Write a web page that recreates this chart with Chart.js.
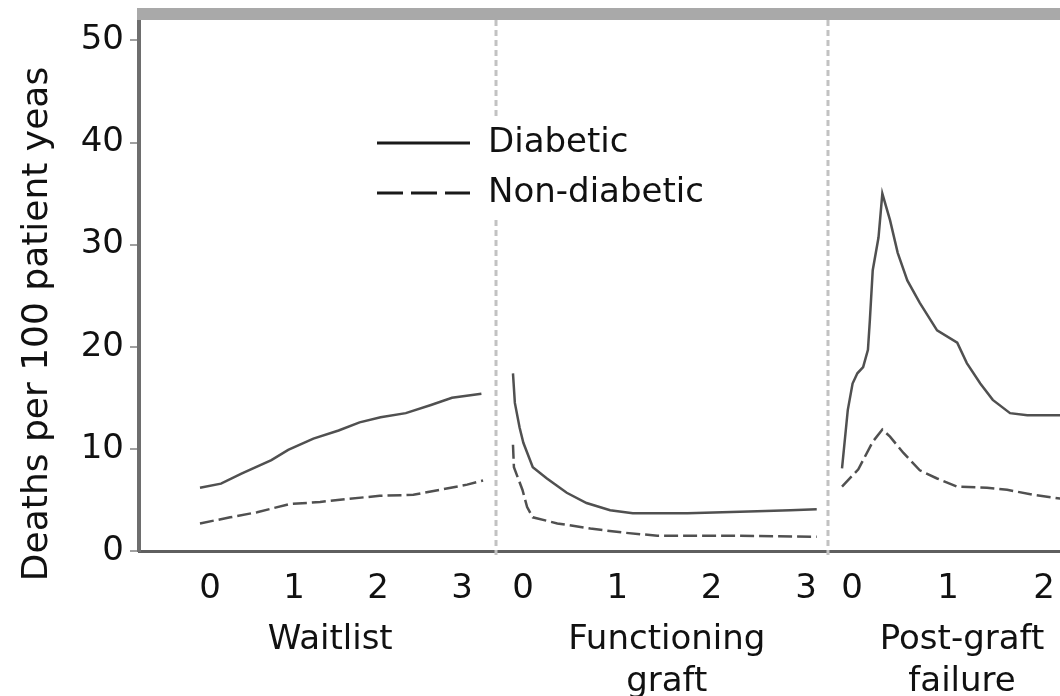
<!DOCTYPE html>
<html>
<head>
<meta charset="utf-8">
<script src="https://cdn.jsdelivr.net/npm/chart.js@4.4.1/dist/chart.umd.min.js"></script>
<style>
  html, body { margin: 0; padding: 0; background: #fff; }
  #wrap { width: 1060px; height: 696px; }
</style>
</head>
<body>
<div id="wrap"><canvas id="deaths" width="1060" height="696"></canvas></div>
<script>
// tick labels
var yTickValues = [0, 10, 20, 30, 40, 50];
var panelYearTicks = [[0, 1, 2, 3], [0, 1, 2, 3], [0, 1, 2]];
var panelNames = [["Waitlist"], ["Functioning", "graft"], ["Post-graft", "failure"]];
var seriesNames = ["Diabetic", "Non-diabetic"];

// waitlist (years on list, deaths per 100 patient years)
var waitDiabYears = [0, 0.25, 0.5, 0.85, 1.05, 1.35, 1.65, 1.9, 2.15, 2.45, 2.75, 3.0, 3.35];
var waitDiabRates = [6.2, 6.6, 7.6, 8.9, 9.9, 11.0, 11.8, 12.6, 13.1, 13.5, 14.3, 15.0, 15.4];
var waitNonYears = [0, 0.36, 0.68, 1.07, 1.43, 1.75, 2.14, 2.54, 2.86, 3.18, 3.37];
var waitNonRates = [2.7, 3.3, 3.8, 4.6, 4.8, 5.1, 5.4, 5.5, 6.0, 6.5, 6.9];

// functioning graft
var graftDiabYears = [0, 0.02, 0.07, 0.11, 0.21, 0.36, 0.57, 0.78, 1.03, 1.27, 1.85, 2.59, 2.94, 3.22];
var graftDiabRates = [17.4, 14.5, 12.1, 10.6, 8.2, 7.1, 5.7, 4.7, 4.0, 3.7, 3.7, 3.9, 4.0, 4.1];
var graftNonYears = [0, 0.01, 0.1, 0.15, 0.21, 0.47, 0.82, 1.17, 1.53, 2.23, 3.22];
var graftNonRates = [10.4, 8.2, 6.0, 4.3, 3.3, 2.7, 2.2, 1.8, 1.5, 1.5, 1.4];

// post-graft failure
var failDiabYears = [0, 0.06, 0.11, 0.16, 0.22, 0.27, 0.29, 0.32, 0.38, 0.42, 0.5, 0.58, 0.68, 0.81, 0.99, 1.2, 1.3, 1.44, 1.57, 1.75, 1.93, 2.3];
var failDiabRates = [8.1, 13.8, 16.4, 17.4, 18.0, 19.7, 22.6, 27.5, 30.7, 35.0, 32.4, 29.2, 26.5, 24.3, 21.6, 20.4, 18.4, 16.4, 14.8, 13.5, 13.3, 13.3];
var failNonYears = [0, 0.17, 0.32, 0.42, 0.5, 0.64, 0.81, 0.99, 1.2, 1.51, 1.72, 1.99, 2.3];
var failNonRates = [6.3, 8.0, 10.7, 11.9, 11.2, 9.6, 7.9, 7.1, 6.3, 6.2, 6.0, 5.5, 5.1];

// panel layout along the shared x axis
var panelOffset = [0, 3.726, 7.643];
var panelStretch = [1, 1.123, 1.143];
var separatorsAt = [3.524, 7.476];
var titleAtYear = [1.55, 1.63, 1.25];
var xMin = -0.726, xMax = 10.238;

var FONT = "'DejaVu Sans', 'Liberation Sans', sans-serif";
var INK = "#111";
var LINE = "#505050";
var plotDash = [14, 5];
var legendDash = [26, 8];

function panelX(p, year) {
    return panelOffset[p] + year * panelStretch[p];
}

function joinPanels(list) {
    var pts = [];
    list.forEach(function (item, p) {
        if (p > 0) pts.push({x: separatorsAt[p - 1], y: null});
        item[0].forEach(function (yr, i) {
            pts.push({x: panelX(p, yr), y: item[1][i]});
        });
    });
    return pts;
}

var xTickValues = [], xTickText = [];
panelYearTicks.forEach(function (yrs, p) {
    yrs.forEach(function (yr) {
        xTickValues.push(panelX(p, yr));
        xTickText.push(String(yr));
    });
});

var decor = {
    id: 'decor',
    beforeDatasetsDraw: function (chart) {
        var ctx = chart.ctx, a = chart.chartArea, xs = chart.scales.x;
        ctx.save();
        ctx.strokeStyle = '#c2c2c2';
        ctx.lineWidth = 3;
        ctx.setLineDash([6, 4]);
        separatorsAt.forEach(function (s) {
            var px = xs.getPixelForValue(s);
            ctx.beginPath();
            ctx.moveTo(px, a.top);
            ctx.lineTo(px, a.bottom + 4);
            ctx.stroke();
        });
        ctx.restore();
    },
    afterDraw: function (chart) {
        var ctx = chart.ctx, a = chart.chartArea, xs = chart.scales.x;
        ctx.save();
        // thick grey frame along the top
        ctx.fillStyle = '#a9a9a9';
        ctx.fillRect(a.left - 2, a.top - 12, a.right - a.left + 2, 12);

        // legend, drawn over the separator
        var lx = a.left + 238, ly = a.top + 123;
        ctx.fillStyle = '#fff';
        ctx.fillRect(lx - 6, ly - 25, 350, 100);
        chart.data.datasets.forEach(function (ds, i) {
            var y = ly + i * 50;
            ctx.strokeStyle = '#1a1a1a';
            ctx.lineWidth = 3;
            ctx.setLineDash(ds.borderDash && ds.borderDash.length ? legendDash : []);
            ctx.beginPath();
            ctx.moveTo(lx, y);
            ctx.lineTo(lx + 93, y);
            ctx.stroke();
            ctx.setLineDash([]);
            ctx.fillStyle = INK;
            ctx.font = '34px ' + FONT;
            ctx.textAlign = 'left';
            ctx.textBaseline = 'middle';
            ctx.fillText(ds.label, lx + 111, y);
        });

        // panel names under the year ticks
        ctx.fillStyle = INK;
        ctx.font = '34px ' + FONT;
        ctx.textAlign = 'center';
        ctx.textBaseline = 'alphabetic';
        panelNames.forEach(function (lines, p) {
            var cx = xs.getPixelForValue(panelX(p, titleAtYear[p]));
            lines.forEach(function (t, k) {
                ctx.fillText(t, cx, a.bottom + 98 + k * 42);
            });
        });

        // y axis title
        ctx.translate(38, a.top + 304);
        ctx.rotate(-Math.PI / 2);
        ctx.font = '36px ' + FONT;
        ctx.textBaseline = 'middle';
        ctx.fillText('Deaths per 100 patient yeas', 0, 0);
        ctx.restore();
    }
};

var lineData = {
    datasets: [
        {
            label: seriesNames[0],
            data: joinPanels([[waitDiabYears, waitDiabRates], [graftDiabYears, graftDiabRates], [failDiabYears, failDiabRates]]),
            borderColor: LINE,
            borderWidth: 2.5,
            borderDash: [],
            pointRadius: 0,
            tension: 0,
            fill: false
        },
        {
            label: seriesNames[1],
            data: joinPanels([[waitNonYears, waitNonRates], [graftNonYears, graftNonRates], [failNonYears, failNonRates]]),
            borderColor: LINE,
            borderWidth: 2.5,
            borderDash: plotDash,
            pointRadius: 0,
            tension: 0,
            fill: false
        }
    ]
};

var lineOptions = {
    responsive: false,
    animation: false,
    layout: {padding: {top: 20, right: 0, bottom: 0, left: 0}},
    plugins: {legend: {display: false}, tooltip: {enabled: false}},
    scales: {
        x: {
            type: 'linear',
            min: xMin,
            max: xMax,
            afterBuildTicks: function (scale) {
                scale.ticks = xTickValues.map(function (v) { return {value: v}; });
            },
            afterFit: function (scale) {
                scale.height = 145;
                scale.paddingLeft = 0;
                scale.paddingRight = 0;
            },
            grid: {display: false, drawTicks: false},
            border: {display: true, color: '#5f5f5f', width: 3},
            ticks: {
                autoSkip: false,
                maxRotation: 0,
                padding: 18,
                labelOffset: 10,
                color: INK,
                font: {family: FONT, size: 34},
                callback: function (v, i) { return xTickText[i]; }
            }
        },
        y: {
            min: 0,
            max: 52,
            afterBuildTicks: function (scale) {
                scale.ticks = yTickValues.map(function (v) { return {value: v}; });
            },
            afterFit: function (scale) {
                scale.width = 139;
                scale.paddingTop = 0;
                scale.paddingBottom = 0;
            },
            grid: {drawOnChartArea: false, drawTicks: true, tickLength: 9, color: '#a0a0a0', lineWidth: 2},
            border: {display: true, color: '#6e6e6e', width: 4},
            ticks: {
                padding: 6,
                color: INK,
                font: {family: FONT, size: 34},
                callback: function (v) { return String(v); }
            }
        }
    }
};

var ctx = document.getElementById("deaths").getContext("2d");
new Chart(ctx, {type: 'line', data: lineData, options: lineOptions, plugins: [decor]});
</script>
</body>
</html>
